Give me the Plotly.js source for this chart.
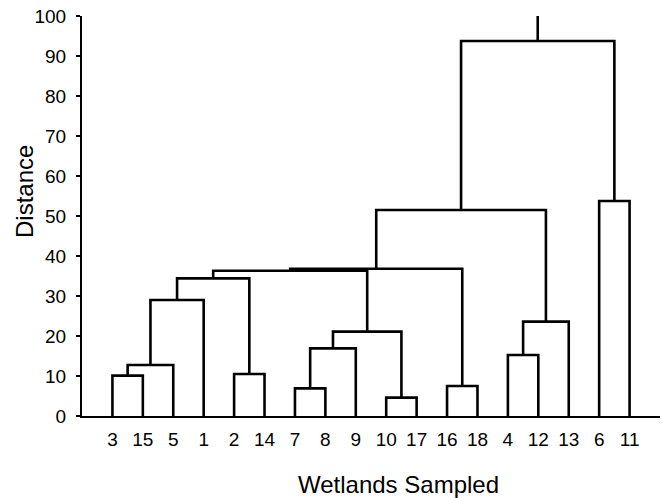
<!DOCTYPE html>
<html>
<head>
<meta charset="utf-8">
<script src="https://cdn.plot.ly/plotly-3.0.1.min.js"></script>
<style>
  html, body { margin: 0; padding: 0; background: #fff; }
  #chart { width: 663px; height: 498px; }
</style>
</head>
<body>
<div id="chart"></div>
<script>
// Leaves in dendrogram order (wetland numbers)
const leafLabels = ["3","15","5","1","2","14","7","8","9","10","17","16","18","4","12","13","6","11"];
// Merge steps: cluster ids 0..17 are leaves, each merge creates id 18, 19, ...
const mergeLeft   = [0, 18, 19, 4, 20, 6, 23, 9, 24, 11, 13, 28, 22, 30, 31, 16, 32];
const mergeRight  = [1, 2, 3, 5, 21, 7, 8, 10, 25, 12, 14, 15, 26, 27, 29, 17, 33];
const mergeHeight = [10.1, 12.75, 29, 10.5, 34.4, 6.9, 16.9, 4.6, 21.1, 7.5, 15.25, 23.6, 36.3, 36.8, 51.5, 53.75, 93.75];
const rootTop = 100;
const yTicks = [0, 10, 20, 30, 40, 50, 60, 70, 80, 90, 100];

// Build dendrogram link geometry from the merge table
const nodeX = leafLabels.map((_, i) => i);
const nodeH = leafLabels.map(() => 0);
const xs = [], ys = [];
for (let k = 0; k < mergeLeft.length; k++) {
  const a = mergeLeft[k], b = mergeRight[k], h = mergeHeight[k];
  xs.push(nodeX[a], nodeX[a], nodeX[b], nodeX[b], null);
  ys.push(nodeH[a], h, h, nodeH[b], null);
  nodeX.push((nodeX[a] + nodeX[b]) / 2);
  nodeH.push(h);
}
const rootId = nodeX.length - 1;
xs.push(nodeX[rootId], nodeX[rootId]);
ys.push(nodeH[rootId], rootTop);

const FONT = "Liberation Sans, Arial, Helvetica, sans-serif";

const trace = {
  type: "scatter",
  mode: "lines",
  x: xs,
  y: ys,
  line: { color: "#000", width: 2.6 },
  hoverinfo: "skip",
  showlegend: false,
  connectgaps: false
};

const layout = {
  width: 663,
  height: 498,
  margin: { l: 82, r: 3, t: 16, b: 82 },
  paper_bgcolor: "#fff",
  plot_bgcolor: "#fff",
  font: { family: FONT, color: "#000", size: 19 },
  xaxis: {
    range: [-1, 18],
    tickvals: leafLabels.map((_, i) => i),
    ticktext: leafLabels,
    ticks: "outside",
    ticklen: 5,
    tickcolor: "rgba(0,0,0,0)",
    showgrid: false,
    zeroline: false,
    showline: true,
    linecolor: "#000",
    linewidth: 2,
    tickfont: { family: FONT, size: 19, color: "#000" },
    fixedrange: true
  },
  yaxis: {
    range: [0, 100],
    tickvals: yTicks,
    ticktext: yTicks.map(String),
    ticks: "outside",
    ticklen: 4,
    tickwidth: 1.5,
    tickcolor: "#000",
    ticklabelstandoff: 6,
    showgrid: false,
    zeroline: false,
    showline: true,
    linecolor: "#000",
    linewidth: 2,
    tickfont: { family: FONT, size: 19, color: "#000" },
    fixedrange: true
  },
  annotations: [
    {
      text: "Distance",
      xref: "paper", yref: "paper",
      x: -82 / 578 + 24.5 / 578, y: (416 - 191.5) / 400,
      xanchor: "center", yanchor: "middle",
      textangle: -90,
      showarrow: false,
      font: { family: FONT, size: 24, color: "#000" }
    },
    {
      text: "Wetlands Sampled",
      xref: "paper", yref: "paper",
      x: (398 - 82) / 578, y: -(485 - 416) / 400,
      xanchor: "center", yanchor: "middle",
      showarrow: false,
      font: { family: FONT, size: 24, color: "#000" }
    }
  ]
};

Plotly.newPlot("chart", [trace], layout, { staticPlot: true, displayModeBar: false });
</script>
</body>
</html>
